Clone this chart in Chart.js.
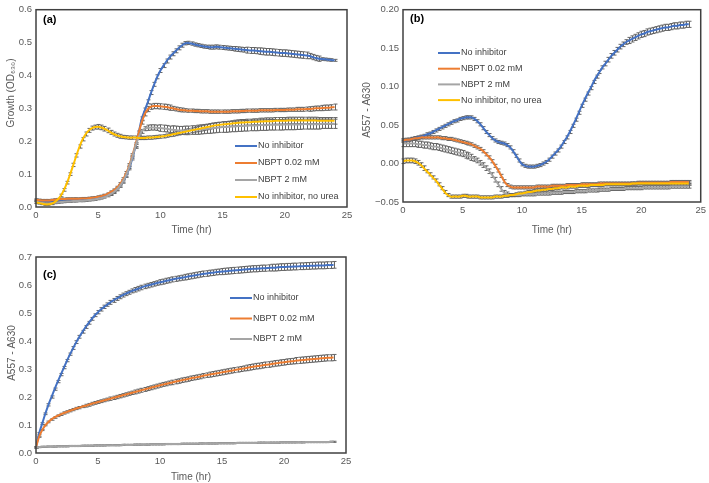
<!DOCTYPE html>
<html lang="en">
<head>
<meta charset="UTF-8">
<title>Urease activity panels</title>
<script src="https://cdn.jsdelivr.net/npm/chart.js@4.4.1/dist/chart.umd.min.js"></script>
<style>
  body { margin: 0; background: #fff; }
  canvas { position: absolute; }
  #chartA { left: 0; top: 0; }
  #chartB { left: 355px; top: 0; }
  #chartC { left: 0; top: 235px; }
</style>
</head>
<body>
<canvas id="chartA" width="360" height="240"></canvas>
<canvas id="chartB" width="354" height="240"></canvas>
<canvas id="chartC" width="360" height="248"></canvas>

<script>
// sampling times (hr), one reading every 15 min
const hours = [0,0.25,0.5,0.75,1,1.25,1.5,1.75,2,2.25,2.5,2.75,3,3.25,3.5,3.75,4,4.25,4.5,4.75,
  5,5.25,5.5,5.75,6,6.25,6.5,6.75,7,7.25,7.5,7.75,8,8.25,8.5,8.75,9,9.25,9.5,9.75,
  10,10.25,10.5,10.75,11,11.25,11.5,11.75,12,12.25,12.5,12.75,13,13.25,13.5,13.75,14,14.25,14.5,14.75,
  15,15.25,15.5,15.75,16,16.25,16.5,16.75,17,17.25,17.5,17.75,18,18.25,18.5,18.75,19,19.25,19.5,19.75,
  20,20.25,20.5,20.75,21,21.25,21.5,21.75,22,22.25,22.5,22.75,23,23.25,23.5,23.75,24];

const xTicks = [0, 5, 10, 15, 20, 25];

// ---- panel (a): growth, OD630 ----
const A_noInhib = [0.020,0.019,0.018,0.018,0.018,0.019,0.020,0.021,
  0.022,0.022,0.023,0.023,0.023,0.024,0.024,0.024,
  0.025,0.025,0.026,0.027,0.029,0.031,0.034,0.038,
  0.042,0.048,0.055,0.065,0.078,0.095,0.118,0.148,
  0.185,0.225,0.268,0.295,0.320,0.348,0.373,0.396,
  0.415,0.430,0.444,0.456,0.466,0.475,0.484,0.492,
  0.498,0.499,0.497,0.494,0.492,0.490,0.488,0.487,
  0.486,0.486,0.487,0.486,0.485,0.484,0.483,0.482,
  0.481,0.480,0.479,0.478,0.477,0.476,0.476,0.475,
  0.474,0.473,0.472,0.472,0.471,0.470,0.469,0.468,
  0.468,0.467,0.466,0.465,0.464,0.463,0.462,0.461,
  0.459,0.456,0.453,0.451,0.450,0.449,0.448,0.447,
  0.446];
const A_nbpt002 = [0.022,0.021,0.020,0.020,0.020,0.021,0.022,0.023,
  0.024,0.024,0.025,0.025,0.025,0.025,0.025,0.026,
  0.026,0.027,0.028,0.029,0.031,0.033,0.036,0.040,
  0.045,0.051,0.059,0.070,0.084,0.103,0.127,0.157,
  0.190,0.225,0.258,0.283,0.298,0.305,0.307,0.307,
  0.306,0.305,0.304,0.302,0.300,0.298,0.296,0.295,
  0.294,0.293,0.293,0.292,0.292,0.291,0.291,0.291,
  0.290,0.290,0.290,0.290,0.290,0.290,0.290,0.291,
  0.291,0.291,0.292,0.292,0.293,0.293,0.293,0.293,
  0.294,0.294,0.294,0.294,0.294,0.295,0.295,0.295,
  0.295,0.296,0.296,0.296,0.297,0.297,0.297,0.298,
  0.298,0.299,0.300,0.300,0.301,0.302,0.302,0.303,
  0.304];
const A_nbpt2 = [0.016,0.014,0.012,0.011,0.011,0.012,0.013,0.014,
  0.015,0.016,0.017,0.017,0.018,0.018,0.019,0.019,
  0.020,0.021,0.022,0.023,0.025,0.027,0.030,0.034,
  0.039,0.045,0.053,0.064,0.078,0.097,0.122,0.152,
  0.185,0.212,0.230,0.238,0.241,0.242,0.242,0.241,
  0.240,0.239,0.238,0.236,0.235,0.234,0.233,0.233,
  0.233,0.233,0.234,0.234,0.235,0.236,0.237,0.238,
  0.239,0.240,0.241,0.242,0.243,0.243,0.244,0.245,
  0.245,0.246,0.246,0.247,0.247,0.248,0.248,0.248,
  0.249,0.249,0.249,0.250,0.250,0.250,0.250,0.250,
  0.251,0.251,0.251,0.251,0.251,0.251,0.252,0.252,
  0.252,0.252,0.252,0.252,0.253,0.253,0.253,0.253,
  0.253];
const A_noUrea = [0.014,0.012,0.010,0.008,0.008,0.010,0.015,0.023,
  0.035,0.052,0.074,0.100,0.128,0.157,0.184,0.206,
  0.222,0.233,0.240,0.243,0.244,0.242,0.238,0.233,
  0.227,0.222,0.218,0.215,0.213,0.212,0.211,0.211,
  0.211,0.210,0.210,0.210,0.211,0.211,0.212,0.213,
  0.214,0.215,0.217,0.219,0.221,0.223,0.225,0.227,
  0.229,0.231,0.233,0.235,0.237,0.239,0.241,0.243,
  0.245,0.247,0.249,0.250,0.251,0.252,0.253,0.254,
  0.255,0.256,0.257,0.257,0.258,0.258,0.259,0.259,
  0.260,0.260,0.261,0.261,0.261,0.262,0.262,0.262,
  0.262,0.263,0.263,0.263,0.263,0.263,0.263,0.263,
  0.263,0.263,0.263,0.262,0.262,0.262,0.262,0.262,
  0.262];
// standard deviation, one value per hour (0..24)
const A_noInhibSD = [0.003,0.003,0.003,0.003,0.003,0.003,0.004,0.005,0.006,0.006,0.006,0.006,0.005,
  0.005,0.006,0.006,0.007,0.009,0.010,0.010,0.010,0.010,0.008,0.004,0.003];
const A_nbpt002SD = [0.003,0.003,0.003,0.003,0.003,0.003,0.004,0.005,0.006,0.008,0.008,0.006,0.005,
  0.005,0.005,0.005,0.005,0.005,0.005,0.005,0.005,0.006,0.007,0.008,0.009];
const A_nbpt2SD = [0.004,0.003,0.003,0.003,0.003,0.003,0.004,0.005,0.006,0.008,0.010,0.012,0.013,
  0.014,0.015,0.016,0.016,0.016,0.016,0.016,0.016,0.015,0.015,0.014,0.014];
const A_noUreaSD = [0.003,0.003,0.004,0.005,0.006,0.007,0.006,0.005,0.005,0.005,0.005,0.006,0.007,
  0.008,0.008,0.008,0.009,0.009,0.010,0.010,0.010,0.010,0.010,0.010,0.010];

// ---- panel (b): A557 - A630 ----
const B_noInhib = [0.030,0.030,0.031,0.032,0.033,0.034,0.035,0.036,
  0.038,0.039,0.041,0.043,0.045,0.047,0.049,0.051,
  0.053,0.055,0.056,0.058,0.059,0.060,0.060,0.060,
  0.058,0.055,0.051,0.046,0.041,0.037,0.033,0.030,
  0.028,0.027,0.026,0.024,0.021,0.016,0.010,0.004,
  -0.001,-0.003,-0.004,-0.004,-0.004,-0.003,-0.002,0.000,
  0.002,0.005,0.009,0.013,0.017,0.022,0.028,0.034,
  0.041,0.049,0.057,0.066,0.075,0.083,0.091,0.098,
  0.106,0.113,0.119,0.125,0.130,0.135,0.140,0.144,
  0.148,0.152,0.155,0.158,0.160,0.162,0.164,0.166,
  0.168,0.169,0.171,0.172,0.173,0.174,0.175,0.176,
  0.177,0.177,0.178,0.179,0.179,0.180,0.180,0.181,
  0.181];
const B_nbpt002 = [0.030,0.031,0.031,0.032,0.033,0.033,0.034,0.034,
  0.034,0.034,0.034,0.034,0.034,0.033,0.033,0.032,
  0.032,0.031,0.030,0.029,0.028,0.027,0.026,0.025,
  0.023,0.021,0.019,0.016,0.012,0.008,0.003,-0.003,
  -0.009,-0.016,-0.023,-0.028,-0.030,-0.031,-0.031,-0.031,
  -0.031,-0.031,-0.031,-0.031,-0.031,-0.030,-0.030,-0.030,
  -0.030,-0.030,-0.029,-0.029,-0.029,-0.029,-0.029,-0.028,
  -0.028,-0.028,-0.028,-0.028,-0.027,-0.027,-0.027,-0.027,
  -0.027,-0.027,-0.026,-0.026,-0.026,-0.026,-0.026,-0.026,
  -0.026,-0.026,-0.026,-0.026,-0.026,-0.026,-0.026,-0.025,
  -0.025,-0.025,-0.025,-0.025,-0.025,-0.025,-0.025,-0.025,
  -0.025,-0.025,-0.024,-0.024,-0.024,-0.024,-0.024,-0.024,
  -0.024];
const B_nbpt2 = [0.026,0.026,0.026,0.026,0.026,0.025,0.025,0.024,
  0.024,0.023,0.022,0.022,0.021,0.020,0.019,0.018,
  0.017,0.016,0.015,0.014,0.013,0.011,0.010,0.008,
  0.006,0.004,0.001,-0.002,-0.006,-0.010,-0.015,-0.021,
  -0.027,-0.033,-0.038,-0.040,-0.041,-0.041,-0.041,-0.041,
  -0.040,-0.040,-0.040,-0.040,-0.040,-0.039,-0.039,-0.039,
  -0.039,-0.039,-0.038,-0.038,-0.038,-0.038,-0.037,-0.037,
  -0.037,-0.037,-0.036,-0.036,-0.036,-0.036,-0.035,-0.035,
  -0.035,-0.035,-0.034,-0.034,-0.034,-0.034,-0.033,-0.033,
  -0.033,-0.033,-0.033,-0.032,-0.032,-0.032,-0.032,-0.032,
  -0.032,-0.031,-0.031,-0.031,-0.031,-0.031,-0.031,-0.031,
  -0.031,-0.031,-0.030,-0.030,-0.030,-0.030,-0.030,-0.030,
  -0.030];
const B_noUrea = [0.003,0.004,0.004,0.004,0.003,0.001,-0.002,-0.006,
  -0.010,-0.014,-0.018,-0.022,-0.027,-0.032,-0.037,-0.041,
  -0.043,-0.043,-0.043,-0.043,-0.042,-0.042,-0.043,-0.043,
  -0.043,-0.043,-0.044,-0.044,-0.044,-0.044,-0.044,-0.043,
  -0.043,-0.043,-0.042,-0.042,-0.041,-0.041,-0.040,-0.039,
  -0.039,-0.038,-0.037,-0.037,-0.036,-0.035,-0.035,-0.034,
  -0.034,-0.033,-0.033,-0.032,-0.032,-0.031,-0.031,-0.031,
  -0.030,-0.030,-0.030,-0.029,-0.029,-0.029,-0.029,-0.028,
  -0.028,-0.028,-0.028,-0.028,-0.027,-0.027,-0.027,-0.027,
  -0.027,-0.027,-0.027,-0.027,-0.027,-0.026,-0.026,-0.026,
  -0.026,-0.026,-0.026,-0.026,-0.026,-0.026,-0.026,-0.026,
  -0.026,-0.026,-0.026,-0.026,-0.026,-0.026,-0.026,-0.026,
  -0.026];
const B_noInhibSD = [0.002,0.002,0.002,0.002,0.002,0.002,0.002,0.002,0.002,0.002,0.002,0.002,0.002,
  0.002,0.002,0.002,0.002,0.003,0.003,0.004,0.004,0.004,0.004,0.004,0.004];
const B_nbpt002SD = [0.002,0.002,0.002,0.002,0.002,0.002,0.002,0.002,0.002,0.002,0.002,0.002,0.002,
  0.002,0.002,0.002,0.002,0.002,0.002,0.002,0.002,0.002,0.002,0.002,0.002];
const B_nbpt2SD = [0.004,0.004,0.004,0.004,0.004,0.004,0.003,0.003,0.003,0.002,0.002,0.002,0.002,
  0.002,0.002,0.002,0.002,0.002,0.002,0.002,0.002,0.002,0.002,0.002,0.002];
const B_noUreaSD = [0.003,0.003,0.002,0.002,0.002,0.002,0.002,0.002,0.002,0.002,0.002,0.002,0.002,
  0.002,0.002,0.002,0.002,0.002,0.002,0.002,0.002,0.002,0.002,0.002,0.002];

// ---- panel (c): A557 - A630 ----
const C_noInhib = [0.020,0.070,0.105,0.140,0.172,0.200,0.228,0.255,
  0.280,0.305,0.330,0.353,0.375,0.396,0.415,0.433,
  0.450,0.465,0.479,0.492,0.503,0.513,0.522,0.530,
  0.538,0.545,0.552,0.558,0.564,0.569,0.574,0.579,
  0.583,0.587,0.591,0.595,0.598,0.601,0.604,0.607,
  0.610,0.612,0.615,0.617,0.620,0.622,0.624,0.626,
  0.628,0.630,0.632,0.634,0.636,0.638,0.640,0.641,
  0.643,0.644,0.646,0.647,0.648,0.649,0.650,0.651,
  0.652,0.653,0.654,0.655,0.656,0.657,0.658,0.658,
  0.659,0.660,0.660,0.661,0.662,0.662,0.663,0.664,
  0.664,0.665,0.665,0.666,0.666,0.667,0.667,0.668,
  0.668,0.669,0.669,0.670,0.670,0.670,0.671,0.671,
  0.672];
const C_nbpt002 = [0.020,0.058,0.082,0.099,0.111,0.120,0.127,0.133,
  0.138,0.143,0.147,0.151,0.155,0.159,0.162,0.166,
  0.169,0.172,0.176,0.179,0.182,0.185,0.188,0.191,
  0.194,0.197,0.200,0.203,0.206,0.209,0.212,0.215,
  0.218,0.221,0.224,0.227,0.230,0.233,0.236,0.239,
  0.242,0.245,0.247,0.250,0.252,0.255,0.257,0.260,
  0.262,0.264,0.267,0.269,0.271,0.273,0.276,0.278,
  0.280,0.282,0.284,0.286,0.288,0.290,0.292,0.294,
  0.296,0.298,0.300,0.302,0.304,0.306,0.308,0.310,
  0.311,0.313,0.315,0.316,0.318,0.320,0.321,0.323,
  0.324,0.326,0.327,0.328,0.330,0.331,0.332,0.333,
  0.334,0.335,0.336,0.337,0.338,0.339,0.340,0.340,
  0.341];
const C_nbpt2 = [0.020,0.021,0.022,0.022,0.023,0.023,0.023,0.024,
  0.024,0.024,0.024,0.025,0.025,0.025,0.025,0.026,
  0.026,0.026,0.026,0.027,0.027,0.027,0.027,0.028,
  0.028,0.028,0.028,0.028,0.029,0.029,0.029,0.029,
  0.030,0.030,0.030,0.030,0.030,0.031,0.031,0.031,
  0.031,0.031,0.032,0.032,0.032,0.032,0.032,0.033,
  0.033,0.033,0.033,0.033,0.033,0.034,0.034,0.034,
  0.034,0.034,0.034,0.035,0.035,0.035,0.035,0.035,
  0.035,0.036,0.036,0.036,0.036,0.036,0.036,0.036,
  0.037,0.037,0.037,0.037,0.037,0.037,0.037,0.038,
  0.038,0.038,0.038,0.038,0.038,0.038,0.038,0.039,
  0.039,0.039,0.039,0.039,0.039,0.039,0.039,0.040,
  0.040];
const C_noInhibSD = [0.003,0.004,0.004,0.005,0.005,0.006,0.007,0.007,0.008,0.008,0.009,0.009,0.010,
  0.010,0.010,0.011,0.011,0.011,0.011,0.012,0.012,0.012,0.012,0.012,0.012];
const C_nbpt002SD = [0.002,0.003,0.004,0.004,0.005,0.005,0.006,0.006,0.007,0.007,0.007,0.008,0.008,
  0.008,0.009,0.009,0.009,0.010,0.010,0.010,0.010,0.011,0.011,0.011,0.011];
const C_nbpt2SD = [0.002,0.002,0.002,0.002,0.002,0.002,0.002,0.002,0.002,0.002,0.002,0.002,0.002,
  0.002,0.002,0.002,0.002,0.002,0.002,0.002,0.002,0.002,0.002,0.002,0.002];

const COLORS = { blue: '#4472C4', orange: '#ED7D31', gray: '#A5A5A5', yellow: '#FFC000' };
const FONT = '"Liberation Sans", Arial, sans-serif';
const TEXT_GRAY = '#595959';

// frame, panel tag, rotated y title, error bars and line legend
const decor = {
  id: 'decor',
  beforeDatasetsDraw(chart) {
    const {ctx, scales: {x, y}} = chart;
    ctx.save();
    ctx.strokeStyle = '#666';
    ctx.lineWidth = 1;
    chart.data.datasets.forEach(ds => {
      ds.data.forEach(p => {
        const sd = ds.sd[Math.min(Math.floor(p.x), ds.sd.length - 1)];
        const px = Math.round(x.getPixelForValue(p.x)) + 0.5;
        const y1 = y.getPixelForValue(p.y + sd);
        const y2 = y.getPixelForValue(p.y - sd);
        ctx.beginPath();
        ctx.moveTo(px, y1); ctx.lineTo(px, y2);
        ctx.moveTo(px - 2, y1); ctx.lineTo(px + 2, y1);
        ctx.moveTo(px - 2, y2); ctx.lineTo(px + 2, y2);
        ctx.stroke();
      });
    });
    ctx.restore();
  },
  afterDraw(chart, args, opts) {
    const {ctx, chartArea: a} = chart;
    ctx.save();
    ctx.strokeStyle = '#404040';
    ctx.lineWidth = 1.5;
    ctx.strokeRect(a.left, a.top, a.right - a.left, a.bottom - a.top);

    ctx.fillStyle = '#000';
    ctx.font = 'bold 11px ' + FONT;
    ctx.textBaseline = 'middle';
    ctx.textAlign = 'left';
    ctx.fillText(opts.tag, opts.tagX, opts.tagY);

    ctx.save();
    ctx.translate(opts.yTitleX, opts.yTitleY);
    ctx.rotate(-Math.PI / 2);
    ctx.textAlign = 'center';
    ctx.fillStyle = TEXT_GRAY;
    ctx.font = '10px ' + FONT;
    ctx.fillText(opts.yTitle, 0, 0);
    ctx.restore();

    ctx.font = '9px ' + FONT;
    ctx.textAlign = 'left';
    chart.data.datasets.forEach((ds, i) => {
      const ly = opts.legX !== undefined ? opts.legY + i * opts.legGap : 0;
      ctx.strokeStyle = ds.borderColor;
      ctx.lineWidth = 2;
      ctx.beginPath();
      ctx.moveTo(opts.legX, ly);
      ctx.lineTo(opts.legX + 22, ly);
      ctx.stroke();
      ctx.fillStyle = '#404040';
      ctx.fillText(ds.label, opts.legX + 23, ly);
    });
    ctx.restore();
  }
};

function series(label, values, sd, color, order) {
  return {
    label: label,
    data: hours.map((t, i) => ({x: t, y: values[i]})),
    sd: sd,
    borderColor: color,
    backgroundColor: color,
    borderWidth: 2,
    pointRadius: 0,
    tension: 0.3,
    order: order
  };
}

function makeChart(id, datasets, p) {
  new Chart(document.getElementById(id), {
    type: 'line',
    data: { datasets: datasets },
    plugins: [decor],
    options: {
      responsive: false,
      animation: false,
      layout: { padding: { left: 0, top: p.padTop, right: p.padRight, bottom: 0 } },
      plugins: {
        legend: { display: false },
        tooltip: { enabled: false },
        decor: p.decor
      },
      scales: {
        x: {
          type: 'linear', min: 0, max: 25,
          afterBuildTicks: s => { s.ticks = xTicks.map(v => ({value: v})); },
          ticks: { color: TEXT_GRAY, font: {family: FONT, size: 9.5}, padding: 3, maxRotation: 0, autoSkip: false },
          grid: { display: false, drawTicks: false },
          border: { display: false },
          title: { display: true, text: 'Time (hr)', color: TEXT_GRAY, font: {family: FONT, size: 10},
                   padding: {top: 0, bottom: p.xTitlePad} },
          afterFit: s => { s.height = p.xHeight; }
        },
        y: {
          type: 'linear', min: p.yMin, max: p.yMax,
          afterBuildTicks: s => { s.ticks = p.yTicks.map(v => ({value: v})); },
          ticks: { color: TEXT_GRAY, font: {family: FONT, size: 9.5}, padding: 4, autoSkip: false, callback: p.fmt },
          grid: { display: false, drawTicks: false },
          border: { display: false },
          afterFit: s => { s.width = p.yWidth; }
        }
      }
    }
  });
}

const yTicksA = [0, 0.1, 0.2, 0.3, 0.4, 0.5, 0.6];
const yTicksB = [-0.05, 0, 0.05, 0.1, 0.15, 0.2];
const yTicksC = [0, 0.1, 0.2, 0.3, 0.4, 0.5, 0.6, 0.7];
const fmt1 = v => v.toFixed(1);
const fmt2 = v => (v < -1e-9 ? '\u2212' + Math.abs(v).toFixed(2) : Math.abs(v).toFixed(2));

makeChart('chartA', [
  series('No inhibitor', A_noInhib, A_noInhibSD, COLORS.blue, 4),
  series('NBPT 0.02 mM', A_nbpt002, A_nbpt002SD, COLORS.orange, 3),
  series('NBPT 2 mM', A_nbpt2, A_nbpt2SD, COLORS.gray, 2),
  series('No inhibitor, no urea', A_noUrea, A_noUreaSD, COLORS.yellow, 1)
], {
  padTop: 5, padRight: 13, xHeight: 33, yWidth: 36, xTitlePad: 4,
  yMin: 0, yMax: 0.6, yTicks: yTicksA, fmt: fmt1,
  decor: { tag: '(a)', tagX: 43, tagY: 20, yTitle: 'Growth (OD\u2086\u2083\u2080)', yTitleX: 11, yTitleY: 93,
           legX: 235, legY: 146, legGap: 17 }
});

makeChart('chartB', [
  series('No inhibitor', B_noInhib, B_noInhibSD, COLORS.blue, 4),
  series('NBPT 0.02 mM', B_nbpt002, B_nbpt002SD, COLORS.orange, 3),
  series('NBPT 2 mM', B_nbpt2, B_nbpt2SD, COLORS.gray, 2),
  series('No inhibitor, no urea', B_noUrea, B_noUreaSD, COLORS.yellow, 1)
], {
  padTop: 5, padRight: 7, xHeight: 38, yWidth: 48, xTitlePad: 4,
  yMin: -0.05, yMax: 0.2, yTicks: yTicksB, fmt: fmt2,
  decor: { tag: '(b)', tagX: 55, tagY: 19, yTitle: 'A557 - A630', yTitleX: 12, yTitleY: 110,
           legX: 83, legY: 53, legGap: 15.7 }
});

makeChart('chartC', [
  series('No inhibitor', C_noInhib, C_noInhibSD, COLORS.blue, 3),
  series('NBPT 0.02 mM', C_nbpt002, C_nbpt002SD, COLORS.orange, 2),
  series('NBPT 2 mM', C_nbpt2, C_nbpt2SD, COLORS.gray, 1)
], {
  padTop: 22, padRight: 14, xHeight: 30, yWidth: 36, xTitlePad: 0,
  yMin: 0, yMax: 0.7, yTicks: yTicksC, fmt: fmt1,
  decor: { tag: '(c)', tagX: 43, tagY: 40, yTitle: 'A557 - A630', yTitleX: 12, yTitleY: 118,
           legX: 230, legY: 63, legGap: 20.5 }
});
</script>
</body>
</html>
